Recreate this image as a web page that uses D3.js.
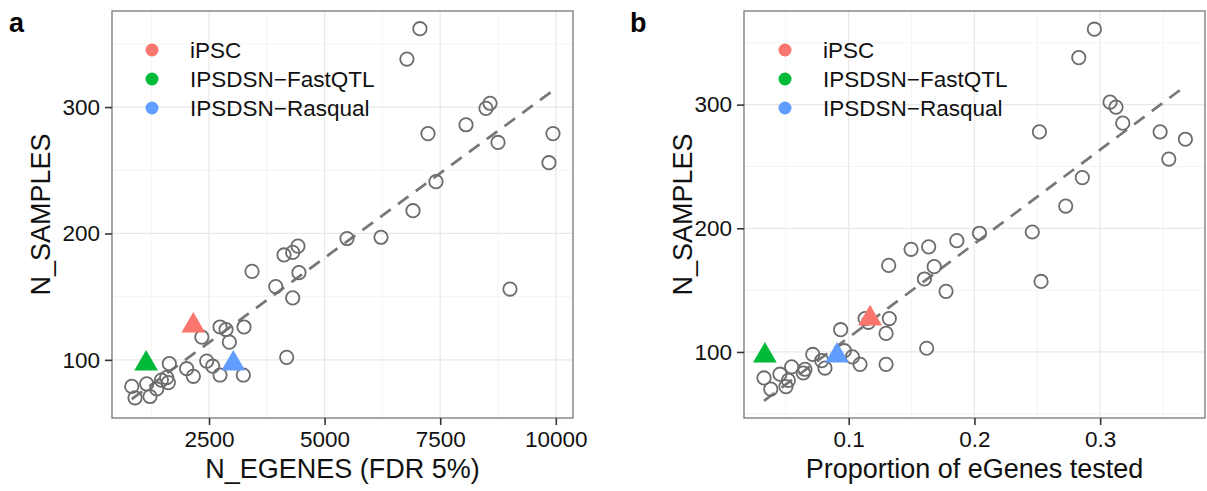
<!DOCTYPE html>
<html>
<head>
<meta charset="utf-8">
<script src="https://cdn.jsdelivr.net/npm/d3@7"></script>
<style>
	body { margin: 0; background: #fff; }
	svg { display: block; font-family: 'Liberation Sans', Arial, sans-serif; }
</style>
</head>
<body>
<div id="graph"></div>
<script>
// panel a: eGenes found at FDR 5% vs sample size
const egenes   = [7061, 6780, 8577, 8490, 8058, 7236, 8750, 9939, 9853, 7408,
	6912, 6220, 9009, 5484, 4424, 4310, 4122, 3430, 4445, 3943,
	4310, 4180, 2738, 2868, 3257, 2345, 2940, 2450, 2580, 2738,
	3242, 1642, 2017, 2161, 1585, 1470, 1620, 1152, 1369, 829,
	1224, 900];
const samplesA = [362, 338, 303, 299, 286, 279, 272, 279, 256, 241,
	218, 197, 156, 196, 190, 185, 183, 170, 169, 158,
	149, 102, 126, 124, 126, 118, 114, 99, 95, 88,
	88, 97, 93, 87, 86, 84, 82, 81, 77, 79,
	71, 70];

// panel b: proportion of eGenes tested vs sample size
const propTested = [0.2954, 0.2830, 0.3079, 0.3126, 0.3180, 0.2517, 0.3477, 0.3678, 0.3546, 0.2858,
	0.2726, 0.2460, 0.2040, 0.1860, 0.2530, 0.1774, 0.1496, 0.1636, 0.1680, 0.1602,
	0.1318, 0.1323, 0.1297, 0.1297, 0.1620, 0.1130, 0.1156, 0.0936, 0.0965, 0.1029,
	0.1090, 0.0714, 0.0785, 0.0811, 0.0652, 0.0639, 0.0546, 0.0453, 0.0520, 0.0501,
	0.0326, 0.0380];
const samplesB = [361, 338, 302, 298, 285, 278, 278, 272, 256, 241,
	218, 197, 196, 190, 157, 149, 183, 185, 169, 159,
	170, 127, 115, 90, 103, 127, 124, 118, 101, 96,
	90, 98, 93, 87, 86, 83, 88, 82, 77, 72,
	79, 70];

// highlighted studies
const groups        = ['iPSC', 'IPSDSN\u2212FastQTL', 'IPSDSN\u2212Rasqual'];
const groupColors   = ['#F8766D', '#00BA38', '#619CFF'];
const groupEgenes   = [2160, 1140, 3026];
const groupProp     = [0.1170, 0.0333, 0.0907];
const groupSamples  = [127, 97, 97];

// dashed linear fits (ends at data range)
const fitEgenes   = [829, 9939];
const fitSamplesA = [69, 313];
const fitProp     = [0.0326, 0.3678];
const fitSamplesB = [60.5, 315];

const xTicksA = [2500, 5000, 7500, 10000];
const xTicksB = [0.1, 0.2, 0.3];
const yTicks  = [100, 200, 300];

document.addEventListener('DOMContentLoaded', () => {
	let svg = d3.select('#graph')
		.append('svg')
			.attr('width', 1207)
			.attr('height', 491);

	function drawPanel(p) {
		let x = d3.scaleLinear().domain(p.xDomain).range([p.left, p.right]);
		let y = d3.scaleLinear().domain(p.yDomain).range([p.bottom, p.top]);

		let g = svg.append('g');

		// grid
		g.selectAll('.vminor').data(p.xMinor).enter().append('line')
			.attr('x1', (d) => x(d)).attr('x2', (d) => x(d))
			.attr('y1', p.top).attr('y2', p.bottom)
			.attr('stroke', '#f4f4f4').attr('stroke-width', 1);
		g.selectAll('.hminor').data(p.yMinor).enter().append('line')
			.attr('y1', (d) => y(d)).attr('y2', (d) => y(d))
			.attr('x1', p.left).attr('x2', p.right)
			.attr('stroke', '#f4f4f4').attr('stroke-width', 1);
		g.selectAll('.vmajor').data(p.xTicks).enter().append('line')
			.attr('x1', (d) => x(d)).attr('x2', (d) => x(d))
			.attr('y1', p.top).attr('y2', p.bottom)
			.attr('stroke', '#e8e8e8').attr('stroke-width', 1.2);
		g.selectAll('.hmajor').data(yTicks).enter().append('line')
			.attr('y1', (d) => y(d)).attr('y2', (d) => y(d))
			.attr('x1', p.left).attr('x2', p.right)
			.attr('stroke', '#e8e8e8').attr('stroke-width', 1.2);

		// legend (no background)
		let leg = g.selectAll('.leg').data(groups).enter().append('g')
			.attr('transform', (d, i) => 'translate(' + p.legX + ', ' + (50 + i * 29) + ')');
		leg.append('circle')
			.attr('r', 6.5)
			.attr('fill', (d, i) => groupColors[i]);
		leg.append('text')
			.attr('x', 38)
			.attr('dy', '.35em')
			.style('font-size', '22.5px')
			.attr('fill', '#111')
			.text((d) => d);

		// fit line
		let line = d3.line()
			.x((d) => x(d[0]))
			.y((d) => y(d[1]));
		g.append('path')
			.attr('d', line(d3.zip(p.fitX, p.fitY)))
			.attr('fill', 'none')
			.attr('stroke', '#777')
			.attr('stroke-width', 2.7)
			.attr('stroke-dasharray', '13,9');

		// points
		g.selectAll('.pt').data(d3.zip(p.xs, p.ys)).enter().append('circle')
			.attr('cx', (d) => x(d[0]))
			.attr('cy', (d) => y(d[1]))
			.attr('r', 6.7)
			.attr('fill', 'none')
			.attr('stroke', '#6c6c6c')
			.attr('stroke-width', 1.8);

		g.selectAll('.tri').data(d3.zip(p.gx, groupSamples, groupColors)).enter().append('path')
			.attr('d', d3.symbol().type(d3.symbolTriangle).size(245))
			.attr('transform', (d) => 'translate(' + x(d[0]) + ', ' + y(d[1]) + ')')
			.attr('fill', (d) => d[2]);

		// border
		g.append('rect')
			.attr('x', p.left).attr('y', p.top)
			.attr('width', p.right - p.left).attr('height', p.bottom - p.top)
			.attr('fill', 'none')
			.attr('stroke', '#808080')
			.attr('stroke-width', 1.4);

		// axes
		let xAxis = d3.axisBottom(x)
			.tickValues(p.xTicks)
			.tickFormat(p.fmt)
			.tickSize(7)
			.tickPadding(6);
		let yAxis = d3.axisLeft(y)
			.tickValues(yTicks)
			.tickSize(7)
			.tickPadding(5);

		let gx = g.append('g')
			.attr('transform', 'translate(0, ' + p.bottom + ')')
			.call(xAxis);
		let gy = g.append('g')
			.attr('transform', 'translate(' + p.left + ', 0)')
			.call(yAxis);
		[gx, gy].forEach((a) => {
			a.select('.domain').remove();
			a.selectAll('.tick line').attr('stroke', '#333').attr('stroke-width', 1.6);
			a.selectAll('.tick text')
				.attr('fill', '#111')
				.style('font-size', '22.5px')
				.style('font-family', "'Liberation Sans', Arial, sans-serif");
		});

		// titles
		g.append('text')
			.attr('x', (p.left + p.right) / 2)
			.attr('y', 478)
			.style('text-anchor', 'middle')
			.style('font-size', '27px')
			.attr('fill', '#111')
			.text(p.xTitle);
		g.append('text')
			.attr('transform', 'translate(' + p.yTitleX + ', ' + (p.top + p.bottom) / 2 + ') rotate(-90)')
			.style('text-anchor', 'middle')
			.style('font-size', '27px')
			.attr('fill', '#111')
			.text('N_SAMPLES');
		g.append('text')
			.attr('x', p.labelX)
			.attr('y', 32)
			.style('font-size', '27px')
			.style('font-weight', 'bold')
			.text(p.label);
	}

	drawPanel({
		left: 112, right: 573, top: 11, bottom: 418,
		xDomain: [402, 10372], yDomain: [54, 376],
		xTicks: xTicksA, xMinor: [1250, 3750, 6250, 8750], yMinor: [150, 250, 350],
		fmt: d3.format('d'),
		xs: egenes, ys: samplesA, gx: groupEgenes,
		fitX: fitEgenes, fitY: fitSamplesA,
		legX: 152, yTitleX: 50, labelX: 9, label: 'a',
		xTitle: 'N_EGENES (FDR 5%)'
	});

	drawPanel({
		left: 744, right: 1205, top: 11, bottom: 418,
		xDomain: [0.0167, 0.3834], yDomain: [46.6, 375.7],
		xTicks: xTicksB, xMinor: [0.05, 0.15, 0.25, 0.35], yMinor: [50, 150, 250, 350],
		fmt: d3.format('.1f'),
		xs: propTested, ys: samplesB, gx: groupProp,
		fitX: fitProp, fitY: fitSamplesB,
		legX: 785, yTitleX: 692, labelX: 630, label: 'b',
		xTitle: 'Proportion of eGenes tested'
	});
});
</script>
</body>
</html>
